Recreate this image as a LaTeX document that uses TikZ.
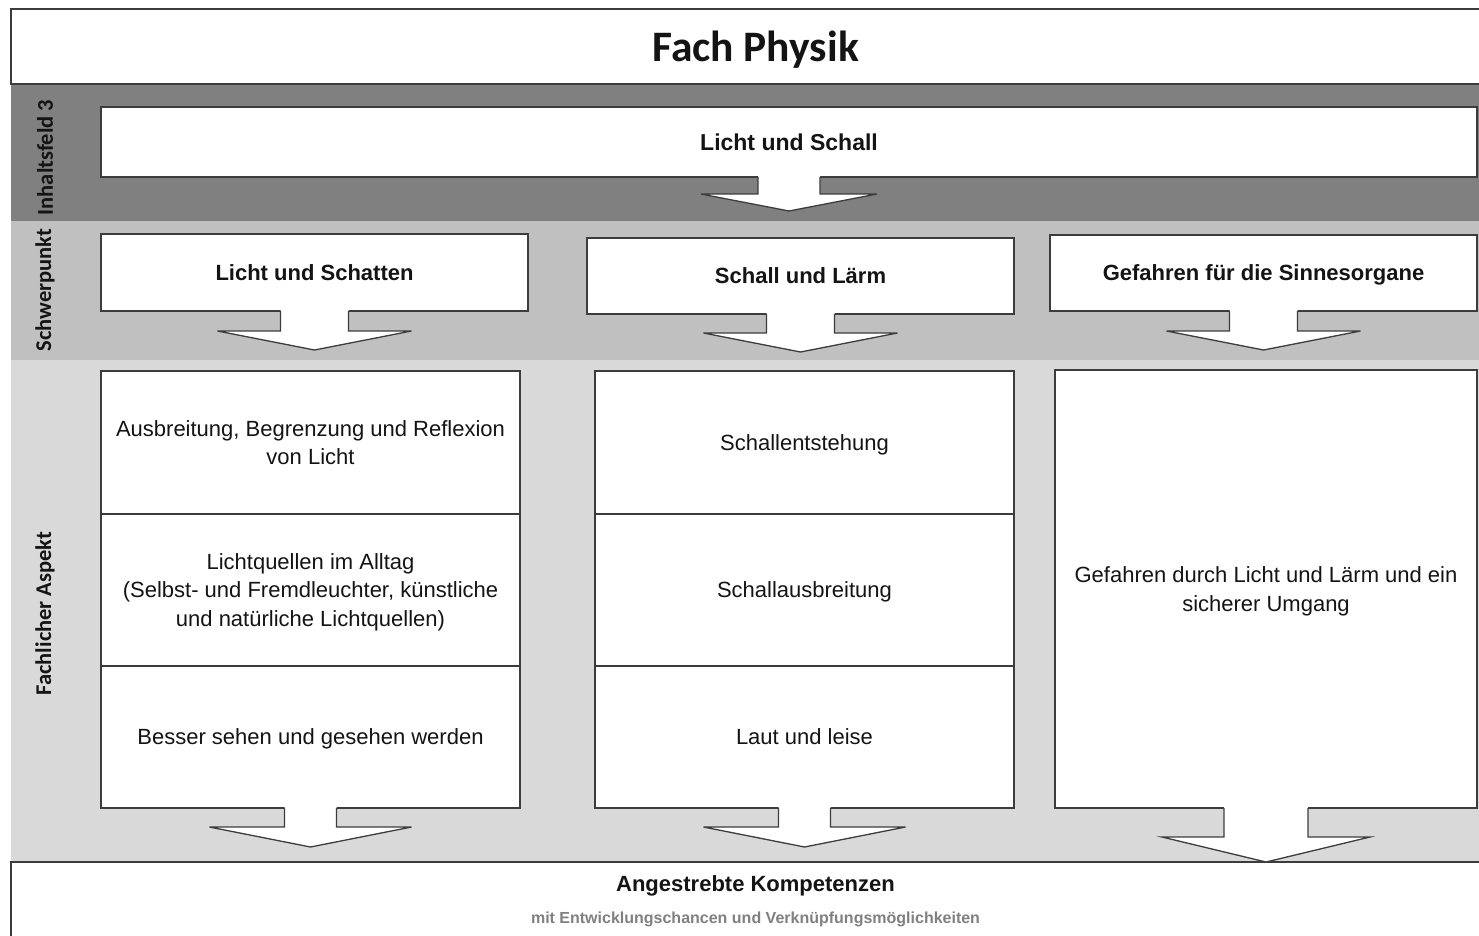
\documentclass[tikz,border=0pt]{standalone}
\usepackage{fontspec}
\setmainfont{Liberation Sans}
\newfontfamily\calib{Carlito}
\usetikzlibrary{calc}

\definecolor{bandA}{HTML}{808080}
\definecolor{bandB}{HTML}{C0C0C0}
\definecolor{bandC}{HTML}{D9D9D9}
\definecolor{edge}{HTML}{3C3C3C}
\definecolor{ink}{HTML}{141414}
\definecolor{note}{HTML}{808080}

\tikzset{
  box/.style={draw=edge, fill=white, line width=1.3pt, outer sep=0pt, inner sep=4pt,
              align=center, text=ink, text depth=0pt},
  headbox/.style={box, font=\fontsize{22}{26}\selectfont\bfseries},
  cellbox/.style={box, font=\fontsize{22}{28.5}\selectfont},
  framebox/.style={draw=edge, fill=white, line width=1.6pt, outer sep=0pt, inner sep=0pt,
                   text depth=0pt},
  plaintext/.style={text depth=0pt, inner sep=0pt},
  bandlabel/.style={rotate=90, font=\calib\fontsize{22.5}{26}\selectfont\bfseries, text=ink},
  outline/.style={draw=edge, line width=1.3pt, line join=miter},
}

% block arrow hanging below a node: #2 half shaft, #3 shaft length,
% #4 half head width, #5 head length
\newcommand\flowdown[5]{%
  \fill[white] ($(#1.south)+(-#2,-2)$) -- ($(#1.south)+(-#2,#3)$) -- ($(#1.south)+(-#4,#3)$)
    -- ($(#1.south)+(0,#3+#5)$) -- ($(#1.south)+(#4,#3)$) -- ($(#1.south)+(#2,#3)$)
    -- ($(#1.south)+(#2,-2)$) -- cycle;
  \draw[outline] ($(#1.south)+(-#2,0)$) -- ($(#1.south)+(-#2,#3)$) -- ($(#1.south)+(-#4,#3)$)
    -- ($(#1.south)+(0,#3+#5)$) -- ($(#1.south)+(#4,#3)$) -- ($(#1.south)+(#2,#3)$)
    -- ($(#1.south)+(#2,0)$);
}

\begin{document}
\begin{tikzpicture}[x=1pt, y=-1pt]
\useasboundingbox (0,0) rectangle (1479,936);
\clip (0,0) rectangle (1479,936);
\fill[white] (0,0) rectangle (1479,936);

% horizontal bands
\fill[bandA] (11,84) rectangle (1500,221);
\fill[bandB] (11,221) rectangle (1500,360);
\fill[bandC] (11,360) rectangle (1500,862);

% title and closing frame
\node[framebox, minimum width=1489pt, minimum height=75pt,
      font=\calib\fontsize{43.5}{46}\selectfont\bfseries, text=ink] (title) at (755.5,46.5) {Fach Physik};
\node[framebox, minimum width=1489pt, minimum height=96pt] (goal) at (755.5,910) {};
\node[plaintext, font=\fontsize{22}{24}\selectfont\bfseries, text=ink] (goalT) at (755.5,884) {Angestrebte Kompetenzen};
\node[plaintext, font=\fontsize{16}{18}\selectfont\bfseries, text=note] (goalS) at (755.5,918) {mit Entwicklungschancen und Verknüpfungsmöglichkeiten};

% band labels
\node[bandlabel] (lab1) at (45,157.5) {Inhaltsfeld 3};
\node[bandlabel] (lab2) at (45,290) {Schwerpunkt};
\node[bandlabel] (lab3) at (45,613.5) {Fachlicher Aspekt};

% content field
\node[headbox, font=\fontsize{23}{26}\selectfont\bfseries, minimum width=1376pt, minimum height=70pt] (topic) at (789,142) {Licht und Schall};

% focus areas
\node[headbox, minimum width=427pt, minimum height=77pt] (sp1) at (314.5,272.5) {Licht und Schatten};
\node[headbox, minimum width=427pt, minimum height=76pt] (sp2) at (800.5,276) {Schall und Lärm};
\node[headbox, minimum width=427pt, minimum height=76pt] (sp3) at (1263.5,273) {Gefahren für die Sinnesorgane};

% subject aspects
\node[cellbox, minimum width=419pt, minimum height=143pt] (l1) at (310.5,442.5) {Ausbreitung, Begrenzung und Reflexion\\von Licht};
\node[cellbox, minimum width=419pt, minimum height=152pt] (l2) at (310.5,590) {Lichtquellen im Alltag\\(Selbst- und Fremdleuchter, künstliche\\und natürliche Lichtquellen)};
\node[cellbox, minimum width=419pt, minimum height=142pt] (l3) at (310.5,737) {Besser sehen und gesehen werden};

\node[cellbox, minimum width=419pt, minimum height=143pt] (m1) at (804.5,442.5) {Schallentstehung};
\node[cellbox, minimum width=419pt, minimum height=152pt] (m2) at (804.5,590) {Schallausbreitung};
\node[cellbox, minimum width=419pt, minimum height=142pt] (m3) at (804.5,737) {Laut und leise};

\node[cellbox, minimum width=422pt, minimum height=438pt] (r) at (1266,589) {Gefahren durch Licht und Lärm und ein\\sicherer Umgang};

% block arrows
\flowdown{topic}{31}{17}{88}{17}
\flowdown{sp1}{34}{20}{97}{19}
\flowdown{sp2}{34}{19}{97}{19}
\flowdown{sp3}{34}{20}{97}{19}
\flowdown{l3}{26}{19}{101}{20}
\flowdown{m3}{26}{19}{101}{20}
\flowdown{r}{42}{29}{104}{25}
\end{tikzpicture}
\end{document}
